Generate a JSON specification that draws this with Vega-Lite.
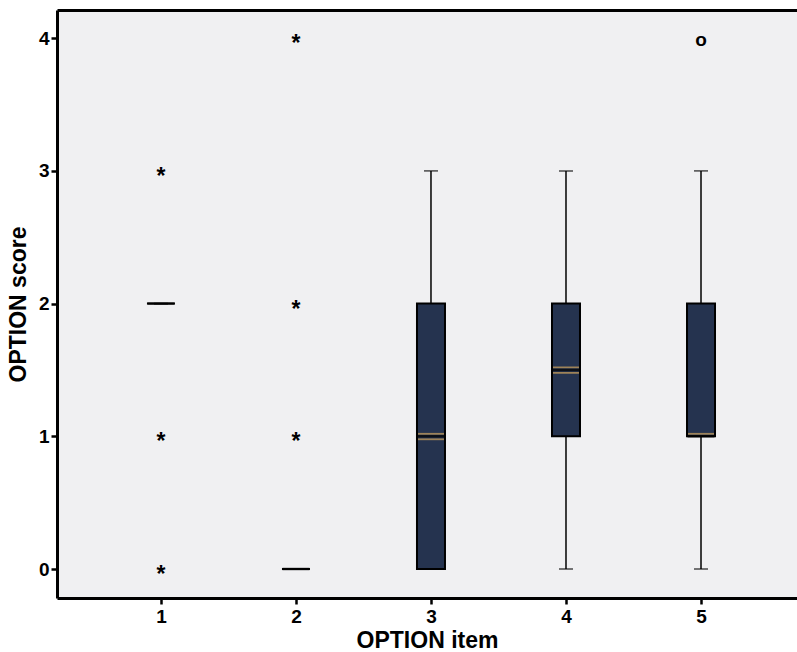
{
  "$schema": "https://vega.github.io/schema/vega-lite/v6.json",
  "autosize": {"type": "none"},
  "width": 740,
  "height": 588,
  "padding": {"left": 57, "top": 10, "right": 0, "bottom": 54},
  "background": "white",
  "config": {
    "view": {"fill": "#f0f0f2", "stroke": null},
    "font": "Liberation Sans",
    "axis": {
      "domainColor": "black",
      "domainWidth": 3,
      "tickColor": "black",
      "tickWidth": 2.5,
      "tickSize": 6,
      "grid": false,
      "labelFont": "Liberation Sans",
      "labelFontWeight": "bold",
      "labelFontSize": 19,
      "labelColor": "black",
      "titleFont": "Liberation Sans",
      "titleFontWeight": "bold",
      "titleFontSize": 23,
      "titleColor": "black"
    }
  },
  "datasets": {
    "boxes": [
      {"item": 1, "min": 2, "q1": 2, "median": 2, "q3": 2, "max": 2},
      {"item": 2, "min": 0, "q1": 0, "median": 0, "q3": 0, "max": 0},
      {"item": 3, "min": 0, "q1": 0, "median": 1, "q3": 2, "max": 3},
      {"item": 4, "min": 0, "q1": 1, "median": 1.5, "q3": 2, "max": 3},
      {"item": 5, "min": 0, "q1": 1, "median": 1, "q3": 2, "max": 3}
    ],
    "outliers": [
      {"item": 1, "value": 3, "symbol": "*"},
      {"item": 1, "value": 1, "symbol": "*"},
      {"item": 1, "value": 0, "symbol": "*"},
      {"item": 2, "value": 4, "symbol": "*"},
      {"item": 2, "value": 2, "symbol": "*"},
      {"item": 2, "value": 1, "symbol": "*"},
      {"item": 5, "value": 4, "symbol": "o"}
    ]
  },
  "resolve": {"axis": {"x": "independent"}},
  "layer": [
    {
      "data": {"name": "boxes"},
      "mark": {"type": "rule", "color": "black", "strokeWidth": 1.5},
      "encoding": {
        "x": {
          "field": "item", "type": "quantitative",
          "scale": {"domain": [0.230, 5.711], "nice": false, "zero": false, "padding": 0},
          "axis": {"values": [1, 2, 3, 4, 5], "format": "d", "title": "OPTION item", "labelPadding": 3, "titlePadding": 3}
        },
        "y": {
          "field": "min", "type": "quantitative",
          "scale": {"domain": [-0.2185, 4.2125], "nice": false, "zero": false, "padding": 0},
          "axis": {"values": [0, 1, 2, 3, 4], "format": "d", "title": "OPTION score", "labelPadding": 2, "titlePadding": 8}
        },
        "y2": {"field": "max"}
      }
    },
    {
      "data": {"name": "boxes"},
      "mark": {"type": "tick", "orient": "horizontal", "color": "black", "size": 14, "thickness": 1.5},
      "encoding": {
        "x": {"field": "item", "type": "quantitative", "axis": {"orient": "top", "labels": false, "ticks": false, "title": null}},
        "y": {"field": "max", "type": "quantitative"}
      }
    },
    {
      "data": {"name": "boxes"},
      "mark": {"type": "tick", "orient": "horizontal", "color": "black", "size": 14, "thickness": 1.5},
      "encoding": {
        "x": {"field": "item", "type": "quantitative", "axis": null},
        "y": {"field": "min", "type": "quantitative"}
      }
    },
    {
      "data": {"name": "boxes"},
      "mark": {"type": "bar", "width": 28, "fill": "#25334f", "stroke": "black", "strokeWidth": 2},
      "encoding": {
        "x": {"field": "item", "type": "quantitative", "axis": null},
        "y": {"field": "q1", "type": "quantitative"},
        "y2": {"field": "q3"}
      }
    },
    {
      "data": {"name": "boxes"},
      "transform": [{"filter": "datum.median < datum.q3"}],
      "mark": {"type": "tick", "orient": "horizontal", "color": "#d1a55e", "size": 26, "thickness": 1.8, "yOffset": -2.5},
      "encoding": {
        "x": {"field": "item", "type": "quantitative", "axis": null},
        "y": {"field": "median", "type": "quantitative"}
      }
    },
    {
      "data": {"name": "boxes"},
      "transform": [{"filter": "datum.median > datum.q1"}],
      "mark": {"type": "tick", "orient": "horizontal", "color": "#d1a55e", "size": 26, "thickness": 1.8, "yOffset": 3},
      "encoding": {
        "x": {"field": "item", "type": "quantitative", "axis": null},
        "y": {"field": "median", "type": "quantitative"}
      }
    },
    {
      "data": {"name": "boxes"},
      "mark": {"type": "tick", "orient": "horizontal", "color": "black", "size": 27, "thickness": 2.5},
      "encoding": {
        "x": {"field": "item", "type": "quantitative", "axis": null},
        "y": {"field": "median", "type": "quantitative"}
      }
    },
    {
      "data": {"name": "outliers"},
      "transform": [{"filter": "datum.symbol === '*'"}],
      "mark": {"type": "text", "font": "Liberation Sans", "fontWeight": "bold", "fontSize": 23, "color": "black", "baseline": "middle", "align": "center", "dy": 6},
      "encoding": {
        "x": {"field": "item", "type": "quantitative", "axis": null},
        "y": {"field": "value", "type": "quantitative"},
        "text": {"field": "symbol"}
      }
    },
    {
      "data": {"name": "outliers"},
      "transform": [{"filter": "datum.symbol === 'o'"}],
      "mark": {"type": "text", "font": "Liberation Sans", "fontWeight": "bold", "fontSize": 19, "color": "black", "baseline": "middle", "align": "center", "dy": 1.5},
      "encoding": {
        "x": {"field": "item", "type": "quantitative", "axis": null},
        "y": {"field": "value", "type": "quantitative"},
        "text": {"field": "symbol"}
      }
    }
  ]
}
